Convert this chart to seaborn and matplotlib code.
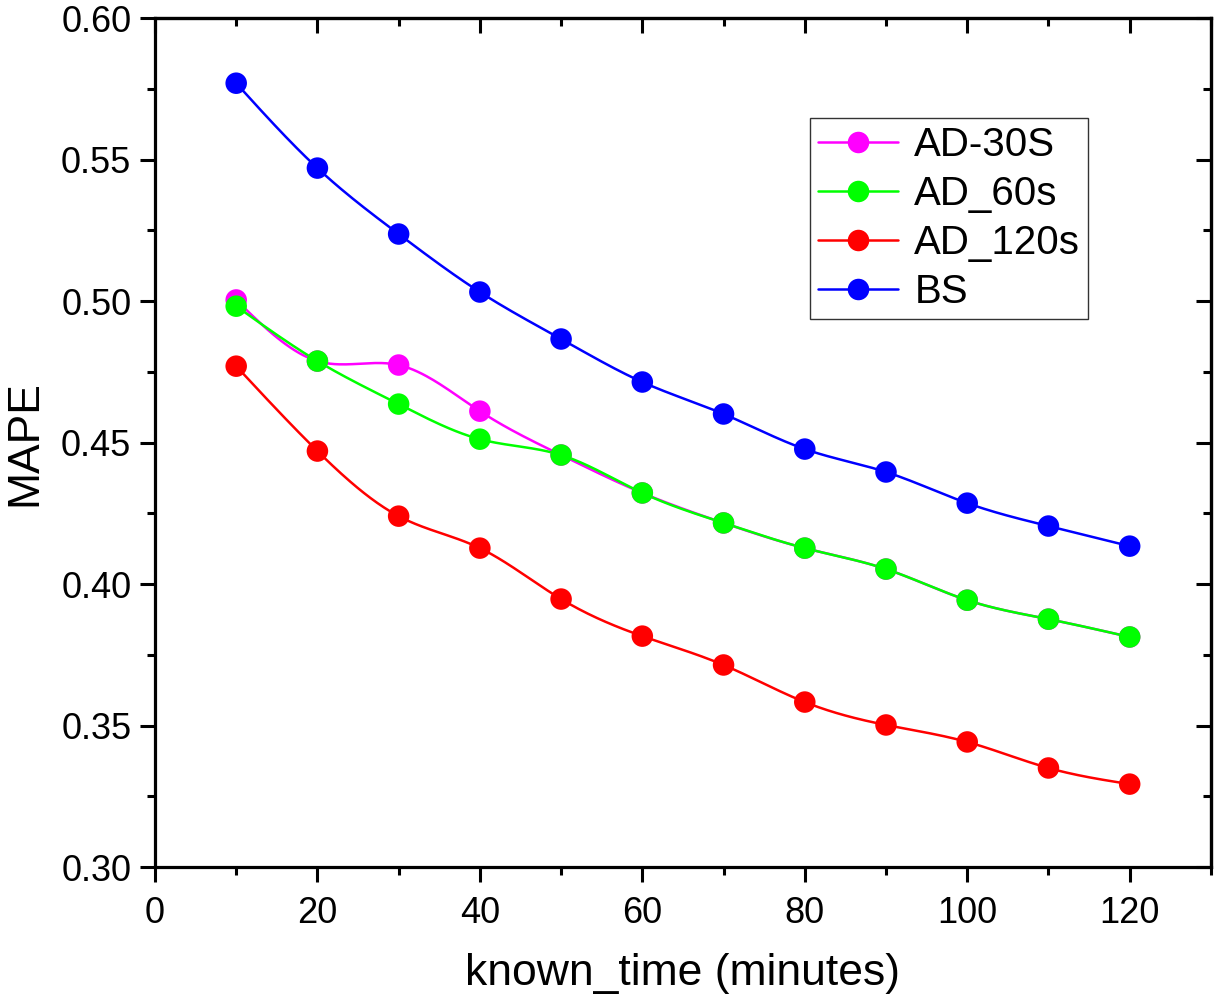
import numpy as np
import pandas as pd
import matplotlib
matplotlib.use("Agg")
import matplotlib.pyplot as plt
from matplotlib.lines import Line2D
import seaborn as sns

known_time = [10, 20, 30, 40, 50, 60, 70, 80, 90, 100, 110, 120]
ad_30s = [0.5004, 0.4788, 0.4774, 0.4611, 0.4456, 0.4322, 0.4216, 0.4127, 0.4053, 0.3943, 0.3876, 0.3813]
ad_60s = [0.4982, 0.4788, 0.4636, 0.4512, 0.4456, 0.4322, 0.4216, 0.4127, 0.4053, 0.3943, 0.3876, 0.3813]
ad_120s = [0.4770, 0.4470, 0.4240, 0.4127, 0.3947, 0.3816, 0.3714, 0.3583, 0.3502, 0.3442, 0.3350, 0.3293]
bs = [0.5770, 0.5470, 0.5237, 0.5032, 0.4866, 0.4714, 0.4601, 0.4477, 0.4396, 0.4286, 0.4205, 0.4134]

series_names = ["AD-30S", "AD_60s", "AD_120s", "BS"]
series_values = [ad_30s, ad_60s, ad_120s, bs]
series_colors = ["#ff00ff", "#00ff00", "#ff0000", "#0000ff"]


def natural_spline(x, y, n=400):
    """Natural cubic spline through the points, for a smooth connecting line."""
    x = np.asarray(x, float)
    y = np.asarray(y, float)
    k = len(x)
    h = np.diff(x)
    A = np.zeros((k, k))
    r = np.zeros(k)
    A[0, 0] = A[-1, -1] = 1
    for i in range(1, k - 1):
        A[i, i - 1] = h[i - 1]
        A[i, i] = 2 * (h[i - 1] + h[i])
        A[i, i + 1] = h[i]
        r[i] = 3 * ((y[i + 1] - y[i]) / h[i] - (y[i] - y[i - 1]) / h[i - 1])
    c = np.linalg.solve(A, r)
    xs = np.linspace(x[0], x[-1], n)
    idx = np.clip(np.searchsorted(x, xs) - 1, 0, k - 2)
    b = (y[1:] - y[:-1]) / h - h * (2 * c[:-1] + c[1:]) / 3
    d = (c[1:] - c[:-1]) / (3 * h)
    t = xs - x[idx]
    ys = y[idx] + b[idx] * t + c[idx] * t ** 2 + d[idx] * t ** 3
    return xs, ys


sns.set_theme(style="white")
plt.rcParams['font.family'] = ['Liberation Sans', 'DejaVu Sans']
plt.rcParams['text.color'] = 'black'
plt.rcParams['axes.labelcolor'] = 'black'
plt.rcParams['xtick.color'] = 'black'
plt.rcParams['ytick.color'] = 'black'

fig = plt.figure(figsize=(12.25, 10.07), dpi=100)
ax = fig.add_axes([0.1265, 0.139, 0.862, 0.843])

for name, vals, col in zip(series_names, series_values, series_colors):
    xs, ys = natural_spline(known_time, vals)
    sns.lineplot(x=xs, y=ys, color=col, linewidth=1.8, ax=ax, sort=False)
    sns.scatterplot(x=known_time, y=vals, color=col, s=240, edgecolor="none", ax=ax, zorder=3)

ax.set_xlim(0, 130)
ax.set_ylim(0.30, 0.60)
ax.set_xticks(np.arange(0, 121, 20))
ax.set_xticks(np.arange(10, 131, 20), minor=True)
ax.set_yticks(np.arange(0.30, 0.601, 0.05))
ax.set_yticks(np.arange(0.325, 0.6, 0.05), minor=True)
ax.set_yticklabels([f"{v:.2f}" for v in np.arange(0.30, 0.601, 0.05)])

for s in ax.spines.values():
    s.set_color("black")
    s.set_linewidth(2.3)

ax.tick_params(axis="both", which="major", direction="out", length=11, width=2.2,
               labelsize=26, color="black", labelcolor="black")
ax.tick_params(axis="x", which="major", pad=10)
ax.tick_params(axis="y", which="major", pad=6)
ax.tick_params(axis="both", which="minor", direction="out", length=6, width=2.2, color="black")
ax.tick_params(axis="both", which="both", bottom=True, left=True)

# mirrored inward ticks on top and right
sec_x = ax.secondary_xaxis("top")
sec_x.set_xticks(np.arange(0, 121, 20))
sec_x.set_xticks(np.arange(10, 131, 20), minor=True)
sec_x.tick_params(which="major", direction="in", length=11, width=2.2, labeltop=False, color="black")
sec_x.tick_params(which="minor", direction="in", length=6, width=2.2, color="black")
sec_x.spines["top"].set_linewidth(2.3)
sec_y = ax.secondary_yaxis("right")
sec_y.set_yticks(np.arange(0.30, 0.601, 0.05))
sec_y.set_yticks(np.arange(0.325, 0.6, 0.05), minor=True)
sec_y.tick_params(which="major", direction="in", length=11, width=2.2, labelright=False, color="black")
sec_y.tick_params(which="minor", direction="in", length=6, width=2.2, color="black")
sec_y.spines["right"].set_linewidth(2.3)

ax.set_xlabel("known_time (minutes)", fontsize=32, labelpad=16)
ax.set_ylabel("MAPE", fontsize=32, labelpad=11)

handles = [Line2D([0], [0], color=c, linewidth=1.8, marker="o", markersize=15.5,
                  markeredgewidth=0) for c in series_colors]
leg = ax.legend(handles, series_names, loc="upper left", bbox_to_anchor=(0.62, 0.882),
                fontsize=29, frameon=True, fancybox=False, handlelength=2.0,
                handletextpad=0.4, labelspacing=0.27, borderpad=0.2, borderaxespad=0)
leg.get_frame().set_edgecolor("black")
leg.get_frame().set_linewidth(1.0)

fig.savefig("out.png", dpi=100)
